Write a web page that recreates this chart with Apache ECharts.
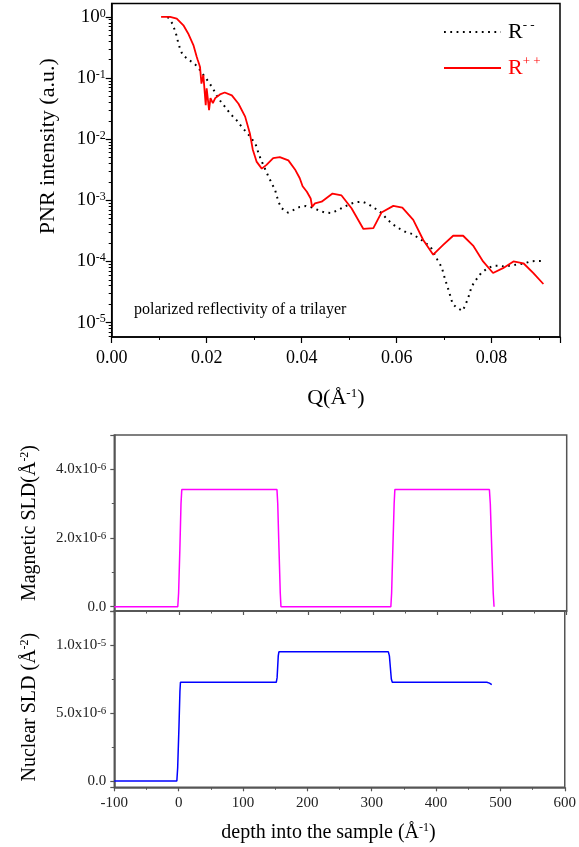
<!DOCTYPE html>
<html>
<head>
<meta charset="utf-8">
<script src="https://cdn.jsdelivr.net/npm/echarts@6/dist/echarts.min.js"></script>
<style>
html, body { margin: 0; padding: 0; background: #fff; }
#chart { width: 579px; height: 847px; }
</style>
</head>
<body>
<div id="chart"></div>
<script>
// reflectivity
var qPlus = [0.0104,0.0123,0.0137,0.0151,0.0161,0.0172,0.0179,0.0181,0.0182,0.0184,0.0186,0.0189,0.0193,0.0198,0.0200,0.0205,0.0208,0.0213,0.0218,0.0228,0.0238,0.0253,0.0267,0.0281,0.0291,0.0297,0.0305,0.0316,0.0326,0.0340,0.0354,0.0372,0.0386,0.0396,0.0402,0.0411,0.0419,0.0422,0.0428,0.0442,0.0465,0.0484,0.0505,0.0530,0.0551,0.0568,0.0593,0.0612,0.0635,0.0656,0.0677,0.0698,0.0719,0.0740,0.0761,0.0782,0.0803,0.0824,0.0846,0.0867,0.0888,0.0909];
var rPlus = [1.0,1.0,0.942,0.731,0.537,0.347,0.224,0.20,0.215,0.17,0.151,0.081,0.112,0.036,0.068,0.030,0.047,0.039,0.047,0.054,0.058,0.052,0.038,0.0234,0.0124,0.0068,0.0043,0.0033,0.0038,0.0049,0.0051,0.0045,0.0032,0.0023,0.0017,0.00138,0.00107,0.00078,0.00089,0.00095,0.00129,0.0012,0.00074,0.00034,0.00035,0.00063,0.00081,0.00076,0.00048,0.000224,0.000129,0.000186,0.000263,0.000263,0.000182,0.0001,0.0000646,0.0000776,0.0001,0.0000933,0.0000646,0.0000427];

var qMinus = [0.0118,0.0119,0.0128,0.0133,0.0137,0.0140,0.0144,0.0149,0.0161,0.0174,0.0186,0.0195,0.0203,0.0213,0.0221,0.0230,0.0241,0.0251,0.0263,0.0274,0.0286,0.0295,0.0304,0.0310,0.0319,0.0330,0.0337,0.0344,0.0351,0.0358,0.0371,0.0382,0.0396,0.0409,0.0423,0.0437,0.0449,0.0462,0.0475,0.0489,0.0502,0.0514,0.0528,0.0540,0.0554,0.0568,0.0580,0.0593,0.0607,0.0620,0.0634,0.0646,0.0658,0.0672,0.0686,0.0695,0.0702,0.0707,0.0714,0.0718,0.0728,0.0739,0.0745,0.0751,0.0758,0.0768,0.0778,0.0790,0.0803,0.0816,0.0830,0.0842,0.0856,0.0869,0.0882,0.0895,0.0907];
var rMinus = [1.0,0.933,0.776,0.603,0.484,0.38,0.302,0.243,0.20,0.174,0.135,0.107,0.089,0.068,0.052,0.041,0.032,0.0254,0.0204,0.0158,0.0124,0.0102,0.0079,0.0056,0.0038,0.00245,0.0019,0.00148,0.00095,0.00074,0.00063,0.00069,0.00078,0.00081,0.00076,0.00068,0.00063,0.00062,0.00068,0.00078,0.00087,0.00093,0.00095,0.00087,0.00074,0.00062,0.00049,0.0004,0.00034,0.0003,0.00028,0.00024,0.00021,0.00017,0.000106,0.00008,0.000051,0.000039,0.0000257,0.00002,0.0000172,0.0000155,0.0000195,0.0000257,0.000039,0.000051,0.0000646,0.0000759,0.000085,0.000085,0.000082,0.000087,0.000089,0.000093,0.0001,0.000102,0.000102];

// SLD profiles
var depthMag = [-100,-1.8,-0.5,1.5,3.2,4.4,151.7,152.9,154.8,156.8,157.9,327.9,329.1,331,333,334.1,480.4,481.8,484,486.3,487.6];
var sldMag = [0,0,0.4e-6,1.7e-6,3.0e-6,3.41e-6,3.41e-6,3.0e-6,1.7e-6,0.4e-6,0,0,0.4e-6,1.7e-6,3.0e-6,3.41e-6,3.41e-6,3.0e-6,1.7e-6,0.4e-6,0];
var depthNuc = [-100,-2.8,-1.5,0.5,2,2.8,151.7,153,154.8,155.8,325.9,327.5,330.5,332,478.9,483,486.6];
var sldNuc = [0,0,1.0e-6,4.0e-6,6.6e-6,7.26e-6,7.26e-6,7.6e-6,9.2e-6,9.5e-6,9.5e-6,9.2e-6,7.5e-6,7.26e-6,7.26e-6,7.2e-6,7.09e-6];

// tick values
var rTicks = [1e-5, 1e-4, 1e-3, 1e-2, 1e-1, 1];
var rMin = 5.8e-6, rMax = 1.66;

function zip(a, b) {
    var out = [];
    for (var i = 0; i < a.length; i++) out.push([a[i], b[i]]);
    return out;
}

// minor ticks of the log axis: 2..9 x each decade
var rMinor = [];
for (var e = -6; e <= 0; e++) {
    for (var m = 2; m <= 9; m++) {
        var v = m * Math.pow(10, e);
        if (v > rMin && v < rMax) rMinor.push(v);
    }
}

var serif = 'Liberation Serif';
var supStyle = { fontSize: 12, fontFamily: serif, verticalAlign: 'top', lineHeight: 12 };

function powLabel(v) {
    var e = Math.round(Math.log10(v));
    return '10{sup|' + e + '}';
}
function sciLabel(v) {
    if (Math.abs(v) < 1e-12) return '0.0';
    var e = Math.floor(Math.log10(Math.abs(v)) + 1e-9);
    var m = v / Math.pow(10, e);
    return m.toFixed(1) + 'x10{sup|' + e + '}';
}

var myChart = echarts.init(document.getElementById('chart'));
myChart.setOption({
    animation: false,
    backgroundColor: '#fff',
    grid: [
        { left: 111.7, top: 3.5, width: 448.3, height: 333.5, show: true, borderColor: '#000', borderWidth: 1.5 },
        { left: 114.3, top: 435, width: 452.4, height: 176, show: true, borderColor: '#555', borderWidth: 1.5 },
        { left: 114.3, top: 611, width: 452.4, height: 176.3, show: true, borderColor: '#555', borderWidth: 1.5 }
    ],
    legend: {
        orient: 'vertical',
        left: 443,
        top: 19,
        padding: 0,
        itemWidth: 57,
        itemHeight: 14,
        itemGap: 10,
        itemStyle: { opacity: 0 },
        data: ['R--', 'R++'],
        formatter: function (name) {
            return name === 'R--' ? '{b|R}{bs|- -}' : '{r|R}{rs|+ +}';
        },
        textStyle: {
            fontFamily: serif,
            fontSize: 22,
            lineHeight: 26,
            rich: {
                b: { color: '#000', fontSize: 22, fontFamily: serif, lineHeight: 26, padding: [0, 0, 0, 2] },
                bs: { color: '#000', fontSize: 13, fontFamily: serif, verticalAlign: 'top', lineHeight: 14 },
                r: { color: '#f00', fontSize: 22, fontFamily: serif, lineHeight: 26, padding: [0, 0, 0, 2] },
                rs: { color: '#f00', fontSize: 13, fontFamily: serif, verticalAlign: 'top', lineHeight: 14 }
            }
        }
    },
    graphic: [{
        type: 'text',
        left: 134,
        top: 302,
        style: { text: 'polarized reflectivity of a trilayer', font: '16px "Liberation Serif"', fill: '#000' }
    }],
    xAxis: [
        {
            gridIndex: 0, type: 'value', min: 0, max: 0.0944, interval: 0.02,
            name: 'Q(Å{sup|-1})', nameLocation: 'middle', nameGap: 50,
            nameTextStyle: { fontFamily: serif, fontSize: 22, color: '#000', rich: { sup: { fontSize: 13, fontFamily: serif, verticalAlign: 'top', lineHeight: 14 } } },
            axisLine: { onZero: false, lineStyle: { color: '#000', width: 1.5 } },
            axisTick: { length: 6, lineStyle: { color: '#000', width: 1.2 } },
            minorTick: { show: true, splitNumber: 2, length: 3, lineStyle: { color: '#000', width: 1 } },
            axisLabel: { fontFamily: serif, fontSize: 18, color: '#000', margin: 12, showMaxLabel: false,
                formatter: function (v) { return v.toFixed(2); } },
            splitLine: { show: false }
        },
        {
            gridIndex: 1, type: 'value', min: -100, max: 600, interval: 100,
            axisLine: { onZero: false, lineStyle: { color: '#555', width: 1.5 } },
            axisTick: { length: 4, lineStyle: { color: '#555', width: 1.2 } },
            minorTick: { show: true, splitNumber: 2, length: 2.5, lineStyle: { color: '#555', width: 1 } },
            axisLabel: { show: false },
            splitLine: { show: false }
        },
        {
            gridIndex: 2, type: 'value', min: -100, max: 600, interval: 100,
            name: 'depth into the sample (Å{sup|-1})', nameLocation: 'middle', nameGap: 35,
            nameTextStyle: { fontFamily: serif, fontSize: 20, color: '#000', padding: [0, 22, 0, 0],
                rich: { sup: { fontSize: 12, fontFamily: serif, verticalAlign: 'top', lineHeight: 13 } } },
            axisLine: { onZero: false, lineStyle: { color: '#555', width: 1.5 } },
            axisTick: { length: 4, lineStyle: { color: '#555', width: 1.2 } },
            minorTick: { show: true, splitNumber: 2, length: 2.5, lineStyle: { color: '#555', width: 1 } },
            axisLabel: { fontFamily: serif, fontSize: 15, color: '#222', margin: 8 },
            splitLine: { show: false }
        }
    ],
    yAxis: [
        {
            gridIndex: 0, type: 'log', logBase: 10, min: rMin, max: rMax, position: 'left',
            name: 'PNR intensity (a.u.)', nameLocation: 'middle', nameGap: 52,
            nameTextStyle: { fontFamily: serif, fontSize: 22, color: '#000', padding: [0, 0, 0, 48] },
            axisLine: { show: true, onZero: false, lineStyle: { color: '#000', width: 1.5 } },
            axisTick: { show: true, length: 6, customValues: rTicks, lineStyle: { color: '#000', width: 1.2 } },
            axisLabel: { customValues: rTicks, fontFamily: serif, fontSize: 19, color: '#000', margin: 6,
                formatter: powLabel, rich: { sup: supStyle } },
            splitLine: { show: false }
        },
        {
            gridIndex: 0, type: 'log', logBase: 10, min: rMin, max: rMax, position: 'left',
            axisLine: { show: false, onZero: false },
            axisTick: { show: true, length: 3, customValues: rMinor, lineStyle: { color: '#000', width: 1 } },
            axisLabel: { show: false },
            splitLine: { show: false }
        },
        {
            gridIndex: 1, type: 'value', min: -1.25e-7, max: 5e-6, splitNumber: 3, position: 'left',
            name: 'Magnetic SLD(Å{sup|-2})', nameLocation: 'middle', nameGap: 75,
            nameTextStyle: { fontFamily: serif, fontSize: 20, color: '#000',
                rich: { sup: { fontSize: 12, fontFamily: serif, verticalAlign: 'top', lineHeight: 13 } } },
            axisLine: { show: true, onZero: false, lineStyle: { color: '#555', width: 1.5 } },
            axisTick: { show: true, length: 4, lineStyle: { color: '#555', width: 1.2 } },
            minorTick: { show: true, splitNumber: 2, length: 2.5, lineStyle: { color: '#555', width: 1 } },
            axisLabel: { fontFamily: serif, fontSize: 15, color: '#222', margin: 8, showMinLabel: false, showMaxLabel: false,
                formatter: sciLabel, rich: { sup: { fontSize: 11, fontFamily: serif, verticalAlign: 'top', lineHeight: 12 } } },
            splitLine: { show: false }
        },
        {
            gridIndex: 2, type: 'value', min: -4.6e-7, max: 1.25e-5, splitNumber: 3, position: 'left',
            name: 'Nuclear SLD (Å{sup|-2})', nameLocation: 'middle', nameGap: 75,
            nameTextStyle: { fontFamily: serif, fontSize: 20, color: '#000', padding: [0, 16, 0, 0],
                rich: { sup: { fontSize: 12, fontFamily: serif, verticalAlign: 'top', lineHeight: 13 } } },
            axisLine: { show: true, onZero: false, lineStyle: { color: '#555', width: 1.5 } },
            axisTick: { show: true, length: 4, lineStyle: { color: '#555', width: 1.2 } },
            minorTick: { show: true, splitNumber: 2, length: 2.5, lineStyle: { color: '#555', width: 1 } },
            axisLabel: { fontFamily: serif, fontSize: 15, color: '#222', margin: 8, showMinLabel: false, showMaxLabel: false,
                formatter: sciLabel, rich: { sup: { fontSize: 11, fontFamily: serif, verticalAlign: 'top', lineHeight: 12 } } },
            splitLine: { show: false }
        }
    ],
    series: [
        {
            name: 'R--', type: 'line', xAxisIndex: 0, yAxisIndex: 0,
            symbol: 'none', showSymbol: false,
            lineStyle: { color: '#000', width: 2, type: [1.8, 4.5] },
            itemStyle: { color: '#000' },
            data: zip(qMinus, rMinus)
        },
        {
            name: 'R++', type: 'line', xAxisIndex: 0, yAxisIndex: 0,
            symbol: 'none', showSymbol: false,
            lineStyle: { color: '#f00', width: 1.8 },
            itemStyle: { color: '#f00' },
            data: zip(qPlus, rPlus)
        },
        {
            name: 'magnetic', type: 'line', xAxisIndex: 1, yAxisIndex: 2,
            symbol: 'none', showSymbol: false,
            lineStyle: { color: '#ff00ff', width: 1.5 },
            data: zip(depthMag, sldMag)
        },
        {
            name: 'nuclear', type: 'line', xAxisIndex: 2, yAxisIndex: 3,
            symbol: 'none', showSymbol: false,
            lineStyle: { color: '#0000ff', width: 1.5 },
            data: zip(depthNuc, sldNuc)
        }
    ]
});
</script>
</body>
</html>
